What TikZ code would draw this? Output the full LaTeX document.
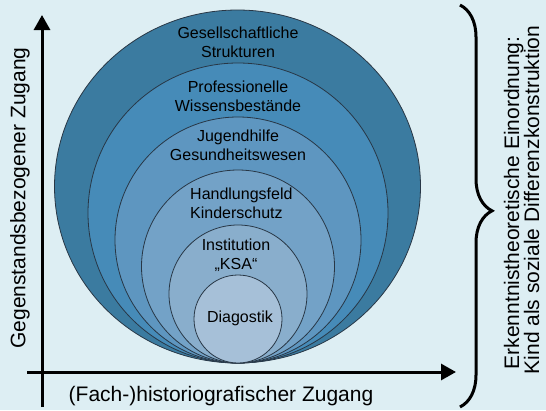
\documentclass[tikz,border=0pt]{standalone}
\usepackage{fontspec}
\setmainfont{Liberation Sans}
\usetikzlibrary{arrows.meta,decorations.pathreplacing}
\definecolor{bg}{RGB}{221,238,243}
\definecolor{cA}{RGB}{59,123,160}
\definecolor{cB}{RGB}{70,139,184}
\definecolor{cC}{RGB}{94,150,192}
\definecolor{cD}{RGB}{115,162,199}
\definecolor{cE}{RGB}{137,174,204}
\definecolor{cF}{RGB}{166,192,216}
\definecolor{rim}{RGB}{40,55,70}
\tikzset{
  ring/.style={draw=rim, line width=0.8pt},
  lbl/.style={font=\fontsize{16}{19}\selectfont, align=center, inner sep=0pt},
  axislbl/.style={font=\fontsize{21}{21}\selectfont, inner sep=0pt},
  axis/.style={line width=3pt, -{Triangle[length=15pt,width=16pt]}},
  bracestyle/.style={line width=3pt, decorate, decoration={brace, amplitude=32pt, aspect=0.512}}
}
\begin{document}
\begin{tikzpicture}[x=1pt,y=-1pt]
\useasboundingbox (0,0) rectangle (546,410);
\fill[bg] (0,0) rectangle (546,410);
% rings
\filldraw[ring, fill=cA] (237.5,186.5) ellipse [x radius=183pt, y radius=176.5pt];
\filldraw[ring, fill=cB] (238,213) circle [radius=150pt];
\filldraw[ring, fill=cC] (238,240) circle [radius=123pt];
\filldraw[ring, fill=cD] (238,266.5) circle [radius=96.5pt];
\filldraw[ring, fill=cE] (238,294) circle [radius=69pt];
\filldraw[ring, fill=cF] (238,319) circle [radius=44pt];
% labels
\node[lbl] (l1) at (238,42.5) {Gesellschaftliche\\Strukturen};
\node[lbl] (l2) at (238,96.5) {Professionelle\\Wissensbestände};
\node[lbl] (l3) at (238,145) {Jugendhilfe\\Gesundheitswesen};
\node[lbl, align=left, anchor=west] (l4) at (190,203) {Handlungsfeld\\Kinderschutz};
\node[lbl] (l5) at (236,255) {Institution\\„KSA“};
\node[lbl] (l6) at (240,318) {Diagostik};
% axes
\coordinate (vb) at (42,407);
\coordinate (vt) at (42,15);
\coordinate (hl) at (27,372);
\coordinate (hr) at (456,372);
\draw[axis] (vb) -- (vt);
\draw[axis] (hl) -- (hr);
\node[axislbl] (xl) at (221,396) {(Fach-)historiografischer Zugang};
\node[axislbl, rotate=90] (yl) at (20,198) {Gegenstandsbezogener Zugang};
% brace
\coordinate (bt) at (460,5);
\coordinate (bb) at (460,407);
\draw[bracestyle] (bt) -- (bb);
\node[axislbl, rotate=90, anchor=base] (r1) at (519,203) {Erkenntnistheoretische Einordnung:};
\node[axislbl, rotate=90, anchor=base] (r2) at (539,200) {Kind als soziale Differenzkonstruktion};
\end{tikzpicture}
\end{document}
